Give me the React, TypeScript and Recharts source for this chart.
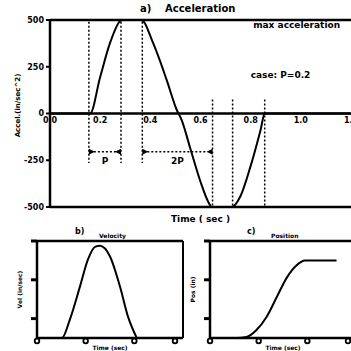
import React from 'react';
import {
  LineChart, Line, XAxis, YAxis, ReferenceLine, ReferenceDot, Label
} from 'recharts';

// a) acceleration profile
const accelTime = [0, 0.16, 0.2, 0.24, 0.28, 0.29, 0.365, 0.41, 0.465, 0.505, 0.525, 0.56, 0.6, 0.63, 0.645, 0.725, 0.76, 0.8, 0.84, 0.856, 1.2];
const accelValue = [0, 0, 195, 380, 495, 500, 500, 380, 180, 20, -35, -190, -365, -470, -500, -500, -440, -280, -85, 0, 0];
const accelTicks = [-500, -250, 0, 250, 500];
const timeTicks = [0, 0.2, 0.4, 0.6, 0.8, 1.0, 1.2];

// dotted markers: upper group runs down to the P / 2P dimension lines, lower group up from the bottom
const upperMarks = [0.155, 0.283, 0.368];
const lowerMarks = [0.648, 0.728, 0.856];
const spanP = [0.155, 0.283];
const span2P = [0.368, 0.648];

// b) velocity and c) position
const velTime = [0, 0.205, 0.27, 0.353, 0.419, 0.477, 0.518, 0.6, 0.682, 0.748, 0.82];
const velValue = [0, 0, 19, 53, 81, 94, 95, 84, 53, 22, 0];
const posTime = [0, 0.22, 0.3, 0.38, 0.466, 0.548, 0.63, 0.712, 0.78, 1.04];
const posValue = [0, 0, 1, 8, 22, 42, 62, 75, 80, 80];
const smallTicks = [0, 20, 40, 60, 80, 100];

const accelData = accelTime.map((t, i) => ({ t, a: accelValue[i] }));
const velData = velTime.map((t, i) => ({ t, v: velValue[i] }));
const posData = posTime.map((t, i) => ({ t, p: posValue[i] }));

const FONT = '"DejaVu Sans", sans-serif';
const INK = '#000';

const arrowShape = (text: string) => (props: any) => {
  const { x1, y1, x2 } = props;
  const y = y1;
  return (
    <g>
      <line x1={x1 + 5} y1={y} x2={x2 - 5} y2={y} stroke={INK} strokeWidth={1.5} strokeDasharray="2 2" />
      <polygon points={`${x1},${y - 3} ${x1},${y + 3} ${x1 + 6},${y}`} fill={INK} />
      <polygon points={`${x2},${y - 3} ${x2},${y + 3} ${x2 - 6},${y}`} fill={INK} />
      <text x={(x1 + x2) / 2} y={y + 12} textAnchor="middle" fontSize={9} fontWeight="bold" fontFamily={FONT} fill={INK}>
        {text}
      </text>
    </g>
  );
};

const RingTick = (props: any) => {
  const { x, y } = props;
  return <circle cx={x} cy={y + 1} r={2.3} fill="#fff" stroke={INK} strokeWidth={1.8} />;
};

// y ticks of the small panels carry only the tick mark
const BlankTick = () => <g />;

const tickFont = { fontSize: 8, fontWeight: 'bold', fill: INK, fontFamily: FONT };

const SmallPanel = ({ data, dataKey, yLabel, frameRight }: { data: any[]; dataKey: string; yLabel: string; frameRight: boolean }) => (
  <LineChart width={185} height={126} data={data} margin={{ top: 16, right: 2, bottom: 0, left: 0 }}>
    <XAxis
      dataKey="t" type="number" domain={[0, 1.2]} ticks={timeTicks}
      axisLine={{ stroke: INK, strokeWidth: 2.5 }} tickLine={false} tickMargin={0} tickSize={2}
      tick={<RingTick />} height={13}
    >
      <Label value="Time (sec)" position="insideBottom" offset={1} fontSize={6} fontWeight="bold" fill={INK} fontFamily={FONT} />
    </XAxis>
    <YAxis
      type="number" domain={[0, 100]} ticks={smallTicks} width={37}
      axisLine={{ stroke: INK, strokeWidth: 2.5 }} tickLine={{ stroke: INK, strokeWidth: 3 }} tickSize={6} tick={<BlankTick />}
    >
      <Label value={yLabel} angle={-90} position="center" dx={1} fontSize={6} fontWeight="bold" fill={INK} fontFamily={FONT} />
    </YAxis>
    <ReferenceLine y={100} stroke={INK} strokeWidth={2.5} />
    {frameRight && <ReferenceLine x={1.2} stroke={INK} strokeWidth={2} />}
    <Line type="monotone" dataKey={dataKey} stroke={INK} strokeWidth={2} dot={false} isAnimationActive={false} />
  </LineChart>
);

const App: React.FC = () => {
  return (
    <div style={{ position: 'fixed', left: 0, top: 0, width: 351, height: 351, overflow: 'hidden', background: '#fff', fontFamily: FONT }}>
      <div style={{ position: 'absolute', left: 0, top: 0 }}>
        <LineChart width={351} height={225} data={accelData} margin={{ top: 20, right: 0, bottom: 0, left: 0 }}>
          <XAxis
            dataKey="t" type="number" domain={[0, 1.2]} ticks={timeTicks}
            axisLine={{ stroke: INK, strokeWidth: 2.5 }} tickLine={false} tick={false} height={18}
          >
            <Label value="Time ( sec )" position="insideBottom" offset={3} fontSize={9} fontWeight="bold" fill={INK} fontFamily={FONT} />
          </XAxis>
          <YAxis
            type="number" domain={[-500, 500]} ticks={accelTicks} width={50}
            axisLine={{ stroke: INK, strokeWidth: 2.5 }} tickLine={{ stroke: INK, strokeWidth: 2 }} tickSize={4}
            tick={tickFont}
          >
            <Label value="Accel.(in/sec^2)" angle={-90} position="center" dx={-7} dy={-8} fontSize={7} fontWeight="bold" fill={INK} fontFamily={FONT} />
          </YAxis>
          <ReferenceLine y={500} stroke={INK} strokeWidth={2.5} />
          <ReferenceLine y={0} stroke={INK} strokeWidth={2.5} />
          {timeTicks.map((t) => (
            <ReferenceDot key={`tl-${t}`} x={t} y={0} r={0} fill="none" stroke="none"
              label={{ value: t.toFixed(1), position: 'bottom', offset: 4, ...tickFont }} />
          ))}
          {upperMarks.map((t) => (
            <ReferenceLine key={`um-${t}`} segment={[{ x: t, y: 490 }, { x: t, y: -265 }]}
              stroke={INK} strokeWidth={1.5} strokeDasharray="2 2" />
          ))}
          {lowerMarks.map((t) => (
            <ReferenceLine key={`lm-${t}`} segment={[{ x: t, y: 75 }, { x: t, y: -500 }]}
              stroke={INK} strokeWidth={1.5} strokeDasharray="2 2" />
          ))}
          <ReferenceLine segment={[{ x: spanP[0], y: -205 }, { x: spanP[1], y: -205 }]} shape={arrowShape('P')} />
          <ReferenceLine segment={[{ x: span2P[0], y: -205 }, { x: span2P[1], y: -205 }]} shape={arrowShape('2P')} />
          <ReferenceDot x={0.81} y={473} r={0} fill="none" stroke="none"
            label={{ value: 'max acceleration', position: 'right', offset: 0, fontSize: 9, fontWeight: 'bold', fill: INK, fontFamily: FONT }} />
          <ReferenceDot x={0.8} y={208} r={0} fill="none" stroke="none"
            label={{ value: 'case: P=0.2', position: 'right', offset: 0, fontSize: 9, fontWeight: 'bold', fill: INK, fontFamily: FONT }} />
          <Line type="monotone" dataKey="a" stroke={INK} strokeWidth={2} dot={false} isAnimationActive={false} />
        </LineChart>
      </div>

      <div style={{ position: 'absolute', left: 140, top: 3, fontSize: 10, fontWeight: 'bold', lineHeight: '12px' }}>a)</div>
      <div style={{ position: 'absolute', left: 165, top: 3, fontSize: 10, fontWeight: 'bold', lineHeight: '12px' }}>Acceleration</div>

      <div style={{ position: 'absolute', left: 0, top: 225 }}>
        <SmallPanel data={velData} dataKey="v" yLabel="Vel (in/sec)" frameRight />
      </div>
      <div style={{ position: 'absolute', left: 173, top: 225 }}>
        <SmallPanel data={posData} dataKey="p" yLabel="Pos (in)" frameRight={false} />
      </div>

      <div style={{ position: 'absolute', left: 75, top: 227, fontSize: 8, fontWeight: 'bold', lineHeight: '9px' }}>b)</div>
      <div style={{ position: 'absolute', left: 99, top: 232, fontSize: 6, fontWeight: 'bold', lineHeight: '7px' }}>Velocity</div>
      <div style={{ position: 'absolute', left: 247, top: 227, fontSize: 8, fontWeight: 'bold', lineHeight: '9px' }}>c)</div>
      <div style={{ position: 'absolute', left: 271, top: 232, fontSize: 6, fontWeight: 'bold', lineHeight: '7px' }}>Position</div>
    </div>
  );
};

export default App;
